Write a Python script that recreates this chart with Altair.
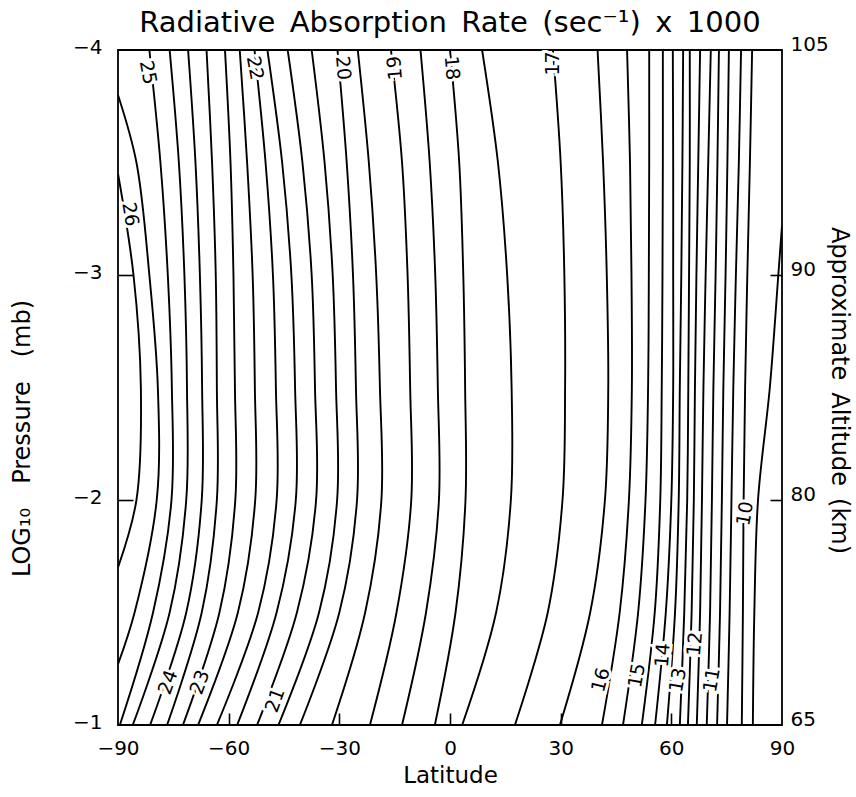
import altair as alt
import pandas as pd

FONT = "DejaVu Sans"

# contour levels (interval 0.5), left to right
LEVELS = [26.0, 25.5, 25.0, 24.5, 24.0, 23.5, 23.0, 22.5, 22.0, 21.5, 21.0,
          20.5, 20.0, 19.5, 19.0, 18.5, 18.0, 17.5, 17.0, 16.5, 16.0, 15.5,
          15.0, 14.5, 14.0, 13.5, 13.0, 12.5, 12.0, 11.5, 11.0, 10.5, 10.0]

# latitude of each contour at a given log10 pressure (None = contour absent)
LAT_P400 = [None, None, -81.5, -76, -71, -66, -61, -57, -53, -49.5, -44, -37.5,
            -30.5, -25, -16, -8, 0, 8.7, 27.9, 40, 48, 54, 57.7, 60.4, 63.2,
            65, 67.8, 70.7, 72.9, 75.6, 78.9, 81.9, None]
LAT_P350 = [None, -85, -78.5, -73.5, -69, -64.5, -59.5, -55, -50, -45.5, -40,
            -34, -28, -22, -13, -5.5, 2.5, 13, 30, 41.5, 48.8, 54, 57.7, 60.5,
            63, 65, 67.3, 70, 72.5, 75.2, 78.3, 81.3, None]
LAT_P300 = [-85.8, -81.5, -76.5, -72, -67.8, -63.5, -58.7, -53.5, -48, -43,
            -37.5, -31.8, -26.3, -20, -11.5, -4, 3.6, 15.5, 31, 42.5, 49.2,
            53.9, 57.6, 60.5, 62.7, 64.8, 66.8, 69.3, 72, 74.7, 77.5, 80.6, 89]
LAT_P250 = [-83.8, -79.2, -75.4, -71.3, -67.2, -63.2, -58.3, -52.9, -47.2,
            -42.0, -36.6, -30.9, -25.5, -19.0, -10.8, -3.3, 4.1, 16.7, 31.2,
            42.9, 49.3, 53.7, 57.4, 60.5, 62.3, 64.6, 66.4, 68.7, 71.4, 74.1,
            76.8, 80, 86.7]
LAT_P200 = [-85, -79.5, -75.5, -71.5, -67.3, -63.2, -58.2, -52.8, -47, -41.8,
            -36.3, -30.6, -25.2, -18.6, -10.5, -3, 4.2, 16.5, 30.5, 42, 48.5,
            53, 57, 60, 62, 64.3, 66.1, 68.3, 71, 73.7, 76.3, 79.6, 83.5]
LAT_P150 = [None, -85.5, -80.5, -76, -71.5, -67.3, -62.5, -57.5, -52, -47,
            -41.5, -35.5, -30, -23, -14.5, -6.5, 1.5, 12.5, 26.5, 38, 46, 51,
            55.5, 58.5, 61, 63.5, 65.5, 67.8, 70.5, 73.2, 75.8, 79.4, 82.5]
LAT_P100 = [None, None, -89.5, -86, -81.3, -76.7, -72.4, -68.3, -63.2, -57.7,
            -52.3, -46.5, -40.7, -32, -21.7, -13, -4.1, 3.3, 17.6, 29.8, 41.2,
            46.9, 52, 55.6, 58.8, 62.3, 64.5, 66.9, 69.6, 72.4, 75.1, 79.1, 82.1]
P_ROWS = [-4.0, -3.5, -3.0, -2.5, -2.0, -1.5, -1.0]
ROWS = [LAT_P400, LAT_P350, LAT_P300, LAT_P250, LAT_P200, LAT_P150, LAT_P100]

# where contours meet the side borders
EDGE_LEVEL = [26.0, 26.0, 25.5, 25.5, 10.0]
EDGE_LAT = [-90, -90, -90, -90, 90]
EDGE_P = [-3.45, -1.7, -3.8, -1.27, -3.22]

# in-line contour labels
LBL_TEXT = ["25", "22", "20", "19", "18", "17", "26", "24", "23", "21",
            "16", "15", "14", "13", "12", "11", "10"]
LBL_LAT = [-81.9, -52.9, -29, -14.9, 0.5, 27.9, -86.7, -76.4, -67.8, -47.4,
           40.9, 50.7, 57.7, 61.8, 66.4, 71, 80]
LBL_P = [-3.9, -3.92, -3.92, -3.92, -3.92, -3.94, -3.27, -1.19, -1.19, -1.11,
         -1.2, -1.22, -1.31, -1.2, -1.36, -1.2, -1.94]
LBL_ANGLE = [80, 80, 85, 265, 85, 270, 80, 290, 290, 290, 285, 280, 275, 280,
             275, 280, 280]

XTICKS = [-90, -60, -30, 0, 30, 60, 90]
XTICKS_INNER = [-60, -30, 0, 30, 60]
YTICKS = [-4, -3, -2, -1]
YTICKS_INNER = [-3, -2]
ALT_LABELS = ["105", "90", "80", "65"]

TITLE = "Radiative\u2002Absorption\u2002Rate\u2002(sec⁻¹)\u2002x\u20021000"
X_TITLE = "Latitude"
Y_TITLE = "LOG₁₀\u2003Pressure\u2003(mb)"
Y2_TITLE = "Approximate\u2002Altitude\u2002(km)"

recs = []
for j, lev in enumerate(LEVELS):
    pts = [(row[j], p) for p, row in zip(P_ROWS, ROWS) if row[j] is not None]
    pts += [(la, pp) for lv, la, pp in zip(EDGE_LEVEL, EDGE_LAT, EDGE_P) if lv == lev]
    pts.sort(key=lambda t: t[1])
    for i, (la, pp) in enumerate(pts):
        recs.append({"level": lev, "lat": la, "p": pp, "i": i})
df = pd.DataFrame(recs)
lbl = pd.DataFrame({"t": LBL_TEXT, "lat": LBL_LAT, "p": LBL_P, "a": LBL_ANGLE})

xs = alt.Scale(domain=[-90, 90], nice=False, zero=False)
ys = alt.Scale(domain=[-4, -1], nice=False, zero=False, reverse=True)

lines = alt.Chart(df).mark_line(color="black", strokeWidth=1.9,
                                interpolate="catmull-rom", clip=True).encode(
    x=alt.X("lat:Q", scale=xs, axis=alt.Axis(
        values=XTICKS, orient="bottom", tickSize=0, labelPadding=13,
        labelFontSize=20, labelFont=FONT, labelColor="black", labelFlush=False,
        format="d", title=X_TITLE, titleFontSize=23, titleFont=FONT,
        titleFontWeight="normal", titleColor="black", titleY=57,
        titleBaseline="alphabetic", domain=False, grid=False)),
    y=alt.Y("p:Q", scale=ys, axis=alt.Axis(
        values=YTICKS, orient="left", tickSize=0, labelPadding=16,
        labelFontSize=20, labelFont=FONT, labelColor="black", format="d",
        labelOffset=-3, labelFlush=False,
        title=Y_TITLE, titleFontSize=24, titleFont=FONT,
        titleFontWeight="normal", titleColor="black", titleX=-96, titleY=388,
        titleAngle=270, titleBaseline="middle", titleAlign="center",
        domain=False, grid=False)),
    detail="level:N",
    order="i:Q",
)

ticks_lb = alt.Chart(df).mark_point(opacity=0).encode(
    x=alt.X("lat:Q", scale=xs, axis=alt.Axis(
        orient="bottom", values=XTICKS_INNER, offset=-12, tickSize=12,
        tickColor="black", tickWidth=1.6, labels=False, domain=False,
        grid=False, title="")),
    y=alt.Y("p:Q", scale=ys, axis=alt.Axis(
        orient="left", values=YTICKS_INNER, offset=-15, tickSize=15,
        tickColor="black", tickWidth=1.6, labels=False, domain=False,
        grid=False, title="")),
)

alt_expr = " : ".join(
    f"datum.value == {v} ? '{t}'" for v, t in zip(YTICKS[:-1], ALT_LABELS[:-1])
) + f" : '{ALT_LABELS[-1]}'"

right_axis = alt.Chart(df).mark_point(opacity=0).encode(
    y=alt.Y("p:Q", scale=ys, axis=alt.Axis(
        orient="right", values=YTICKS, tickSize=0, labelPadding=8,
        labelFontSize=20, labelFont=FONT, labelColor="black",
        labelBaseline="alphabetic", labelExpr=alt_expr, labelFlush=False,
        title=Y2_TITLE, titleFontSize=24, titleFont=FONT,
        titleFontWeight="normal", titleColor="black", titleX=56, titleY=340,
        titleAngle=90, titleBaseline="middle", titleAlign="center",
        domain=False, grid=False)),
)

ticks_r = alt.Chart(df).mark_point(opacity=0).encode(
    y=alt.Y("p:Q", scale=ys, axis=alt.Axis(
        orient="right", values=YTICKS_INNER, offset=-12, tickSize=12,
        tickColor="black", tickWidth=1.6, labels=False, domain=False,
        grid=False, title="")),
)

halo = alt.Chart(lbl).mark_text(font=FONT, fontSize=19, stroke="white",
                                strokeWidth=6, fill="white").encode(
    x=alt.X("lat:Q", scale=xs, axis=None),
    y=alt.Y("p:Q", scale=ys, axis=None),
    text="t:N",
    angle=alt.Angle("a:Q", scale=None),
)
labels = alt.Chart(lbl).mark_text(font=FONT, fontSize=19, fill="black").encode(
    x=alt.X("lat:Q", scale=xs, axis=None),
    y=alt.Y("p:Q", scale=ys, axis=None),
    text="t:N",
    angle=alt.Angle("a:Q", scale=None),
)

chart = alt.layer(lines, ticks_lb, right_axis, ticks_r, halo, labels).resolve_axis(
    x="independent", y="independent"
).properties(
    width=664, height=675,
    title=alt.TitleParams(TITLE, fontSize=29, font=FONT, fontWeight="normal",
                          color="black", anchor="middle", offset=0, dy=27,
                          baseline="alphabetic"),
    autosize=alt.AutoSizeParams(type="none"),
    padding={"left": 118, "top": 50, "right": 74, "bottom": 72},
    background="white",
).configure_view(stroke="black", strokeWidth=1.8)

chart.save("out.html", embed_options={"renderer": "svg", "actions": False})
